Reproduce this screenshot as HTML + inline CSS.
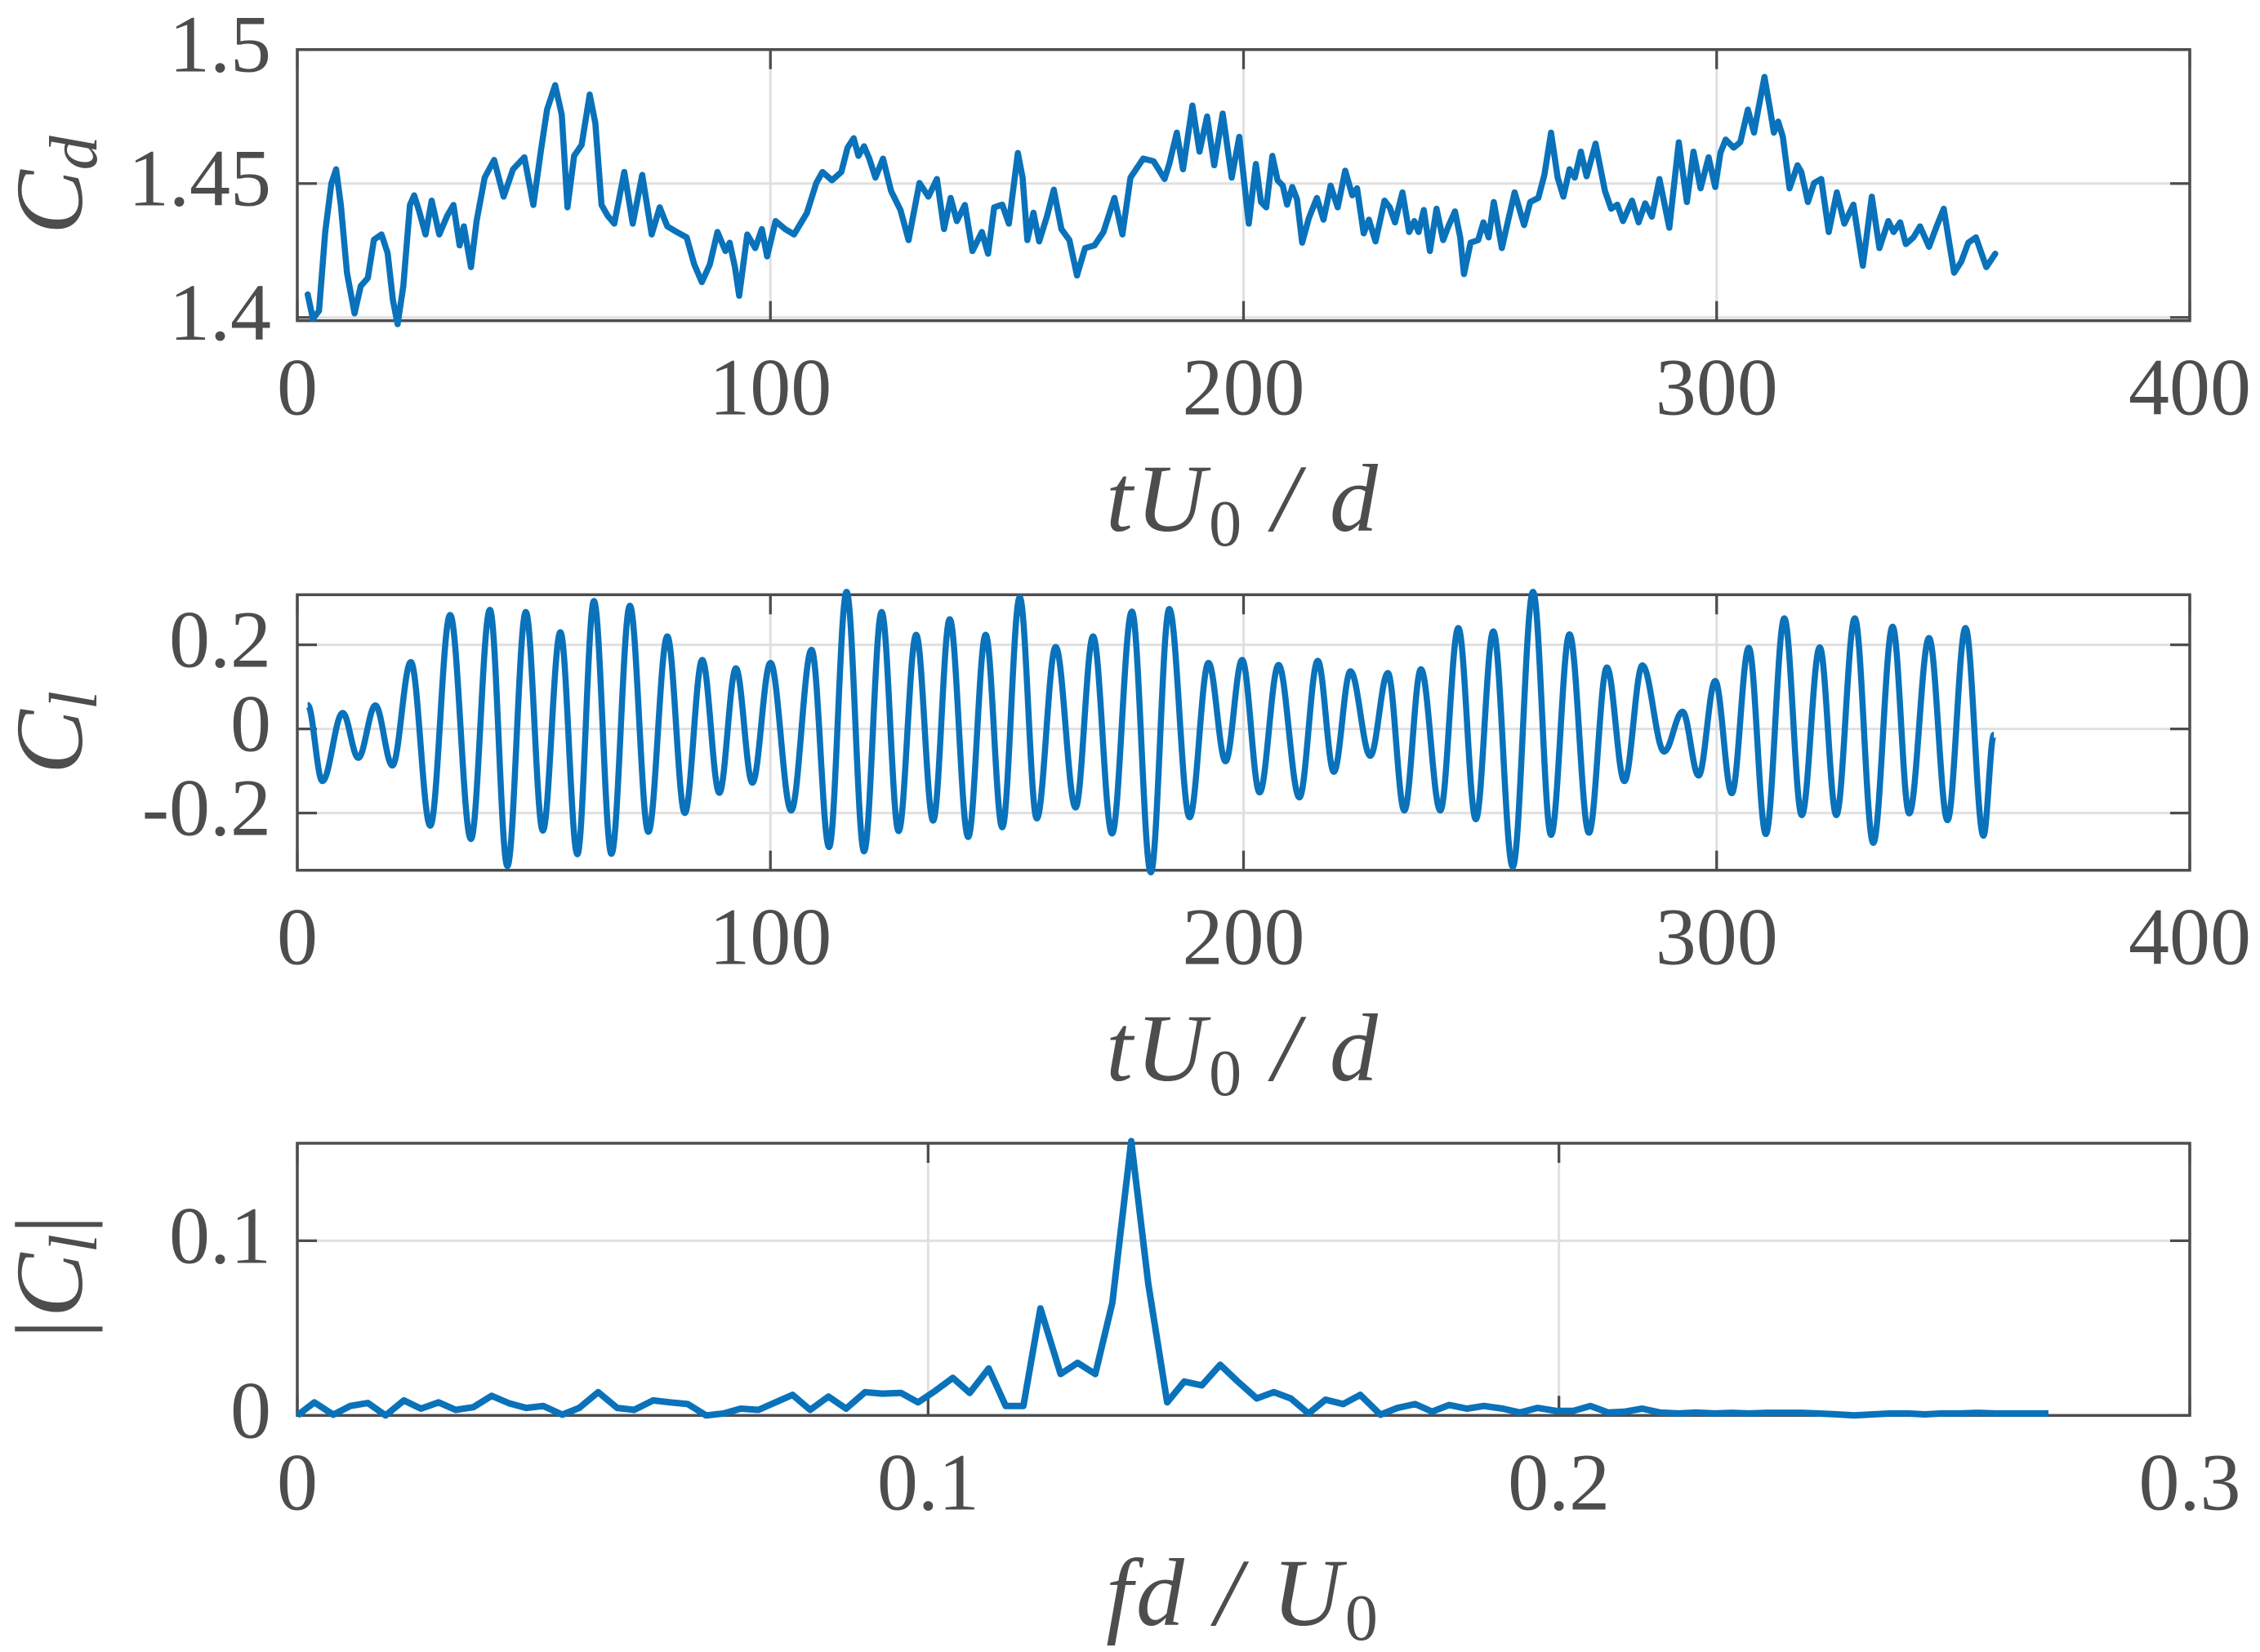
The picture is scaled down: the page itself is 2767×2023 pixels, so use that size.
<!DOCTYPE html>
<html><head><meta charset="utf-8"><title>Cd, Cl and |Cl| spectrum</title>
<style>
html,body{margin:0;padding:0;background:#fff;}
svg{display:block;}
text{font-family:"Liberation Serif",serif;fill:#4d4d4f;}
</style></head>
<body>
<svg id="fig" width="2767" height="2023" viewBox="0 0 2767 2023" xmlns="http://www.w3.org/2000/svg">
<rect width="2767" height="2023" fill="#fff"/>
<g id="layer"></g>
</svg>
<script>
// ---- data: drag coefficient time series ----
const cdT=[2.2,3.3,4.6,5.9,7.2,8.2,9.2,10.5,12.1,13.4,14.9,16.2,17.8,19.1,20.2,21.2,22.4,23.8,24.7,25.7,27.1,28.4,30,31.7,33,34.3,35.2,36.7,37.9,39.6,41.6,43.6,45.6,48,49.9,51.5,52.8,54.5,55.9,57.1,58.5,60.1,61.8,63,64.3,65.6,67,69.1,70.9,72.9,74.9,76.6,78.2,80.2,82.3,83.9,85.5,87.2,88.8,90.5,91.4,92.5,93.4,95.1,96.8,98.2,99.3,101.1,103.1,105,107.7,109.7,111,113,115,116.3,117.6,118.6,119.8,120.9,122.2,123.8,125.5,127.5,129.2,131.5,133.4,135.2,136.7,138.1,139.4,141.1,142.7,144.7,146,147.3,149,150.4,152.3,153.3,154.3,155.6,156.8,158.5,159.9,161.5,163.2,164.8,166.5,168.5,170.4,172.7,174.4,176.1,178.8,181,183.3,184.3,185.9,187.2,189.2,190.7,192.3,193.8,195.6,197.5,199.1,201.1,202.6,203.7,204.8,206.1,207.2,208.3,209.2,210.3,211.3,212.4,213.8,215.5,216.9,218.4,219.9,221.5,223,224,225.4,226.5,227.9,229.8,230.9,232,233.6,235,236.1,237,238.1,239.4,240.8,242.2,243.3,244.7,245.8,246.6,248,249.6,250.7,251.8,252.9,254.6,255.9,257.3,259.3,260.6,262.3,263.6,265,266.4,267.6,268.9,270,271.3,272.5,274.4,276.4,277.7,279,280.2,282.1,283.5,284.9,286.3,287.9,290,292,293.7,295.1,296.6,298.3,299.7,300.8,301.9,303.6,305,306.6,307.9,308.8,310.1,311.3,312.1,313,314,315.4,317.1,317.9,319.3,320.6,322.1,323.7,325.4,327,328.9,330.9,332.8,334.4,336.3,337.4,338.8,340,341.6,343,344.9,346.5,348,350.2,351.7,353.2,354.8,357,358.9];
const cdV=[1.4086,1.3995,1.4025,1.432,1.450,1.4553,1.442,1.4167,1.4015,1.4117,1.4147,1.429,1.431,1.424,1.4066,1.3975,1.4117,1.442,1.4456,1.44,1.431,1.4436,1.431,1.438,1.442,1.4269,1.434,1.4188,1.436,1.4522,1.4588,1.4451,1.4553,1.4598,1.442,1.4624,1.4776,1.4867,1.4756,1.4411,1.4603,1.4644,1.4832,1.4725,1.442,1.438,1.435,1.4543,1.435,1.4532,1.431,1.4411,1.434,1.4319,1.4299,1.4198,1.4132,1.4198,1.4319,1.4248,1.4279,1.4188,1.4081,1.431,1.4259,1.433,1.4228,1.436,1.433,1.431,1.439,1.4502,1.4543,1.4512,1.4543,1.4634,1.4669,1.4603,1.4639,1.4593,1.4522,1.4593,1.4472,1.4401,1.4289,1.4502,1.4451,1.4517,1.433,1.4446,1.436,1.442,1.4248,1.4319,1.4238,1.4411,1.4421,1.435,1.4614,1.4522,1.4289,1.4391,1.4284,1.438,1.4477,1.433,1.4289,1.4157,1.4259,1.4269,1.4319,1.4446,1.431,1.4522,1.4593,1.4583,1.4517,1.4573,1.469,1.4553,1.4791,1.4619,1.475,1.4568,1.4761,1.4522,1.4674,1.435,1.4573,1.4431,1.4411,1.4603,1.4512,1.4492,1.4421,1.4487,1.4441,1.4279,1.437,1.4446,1.4365,1.4492,1.4411,1.4548,1.4456,1.4482,1.4314,1.4365,1.4284,1.4436,1.4411,1.4355,1.4467,1.4319,1.436,1.4319,1.4401,1.4248,1.4406,1.4289,1.434,1.4396,1.4299,1.4162,1.4279,1.4289,1.4355,1.4299,1.4431,1.4259,1.436,1.4467,1.4345,1.4431,1.4446,1.4533,1.469,1.4522,1.4451,1.4553,1.4522,1.4619,1.4527,1.4649,1.4472,1.4406,1.4421,1.436,1.4436,1.4355,1.4426,1.4376,1.4517,1.4335,1.4654,1.4431,1.4619,1.4482,1.4598,1.4487,1.4614,1.4664,1.4634,1.4654,1.4776,1.469,1.4776,1.4898,1.4776,1.469,1.4731,1.4674,1.4482,1.4568,1.4543,1.4431,1.4502,1.4517,1.4319,1.4467,1.435,1.4421,1.4193,1.4451,1.4259,1.436,1.4319,1.4355,1.4274,1.4299,1.434,1.4264,1.434,1.4406,1.4167,1.4208,1.4279,1.4299,1.4188,1.4238];
// ---- data: lift coefficient (extrema of the oscillation) ----
const clT=[2.2,5.3,9.6,12.9,16.5,20.1,24,28.1,32.3,36.7,40.7,44.4,48.3,51.9,55.6,59.2,62.7,66.4,70.3,74.2,78.2,81.9,85.6,89.2,92.7,96.2,100,104.4,108.7,112.4,116.1,119.8,123.5,127.1,130.8,134.4,137.9,141.8,145.5,149,152.7,156.3,160.3,164.5,168.2,172.2,176.4,180.4,184.3,188.6,192.6,196.2,199.7,203.4,207.4,211.8,215.7,219.1,222.6,226.8,230.5,234,237.5,241.6,245.4,249.1,252.8,256.9,261.2,265,268.9,273,276.8,280.5,284.3,288.9,292.8,296.2,299.7,303.2,306.8,310.4,314.3,318,321.8,325.3,329.2,333.1,337.2,340.7,344.9,348.8,352.6,356.4,358.6];
const clV=[0.057,-0.124,0.038,-0.069,0.056,-0.087,0.159,-0.23,0.271,-0.262,0.283,-0.326,0.278,-0.242,0.23,-0.298,0.304,-0.297,0.293,-0.245,0.22,-0.2,0.164,-0.152,0.144,-0.128,0.157,-0.194,0.188,-0.281,0.326,-0.291,0.278,-0.243,0.224,-0.218,0.261,-0.257,0.224,-0.234,0.313,-0.213,0.195,-0.187,0.22,-0.249,0.279,-0.341,0.285,-0.21,0.157,-0.077,0.164,-0.151,0.152,-0.163,0.162,-0.102,0.137,-0.064,0.133,-0.194,0.142,-0.194,0.24,-0.215,0.232,-0.328,0.326,-0.252,0.225,-0.247,0.146,-0.124,0.151,-0.054,0.041,-0.111,0.114,-0.153,0.193,-0.25,0.263,-0.205,0.194,-0.205,0.263,-0.271,0.243,-0.201,0.216,-0.217,0.24,-0.254,-0.014];
// ---- data: |Cl| spectrum ----
const fqF=[0,0.0027,0.0057,0.0084,0.0112,0.014,0.0169,0.0196,0.0224,0.0251,0.0279,0.0308,0.0336,0.0363,0.039,0.042,0.0447,0.0477,0.0507,0.0534,0.0564,0.0591,0.0619,0.0648,0.0676,0.0703,0.0731,0.0758,0.0785,0.0813,0.0842,0.087,0.09,0.0927,0.0957,0.0984,0.1011,0.1039,0.1066,0.1096,0.1123,0.1151,0.1178,0.121,0.1237,0.1265,0.1292,0.1322,0.1349,0.1379,0.1406,0.1434,0.1463,0.1491,0.1521,0.1548,0.1575,0.1603,0.163,0.1658,0.1685,0.1717,0.1744,0.1772,0.1799,0.1826,0.1854,0.1881,0.1911,0.1938,0.1966,0.1995,0.2023,0.205,0.2078,0.2105,0.2132,0.216,0.219,0.2217,0.2247,0.2274,0.2301,0.2329,0.2356,0.2384,0.2411,0.2441,0.2468,0.2498,0.2525,0.2553,0.258,0.2607,0.2635,0.2665,0.2692,0.2719,0.2749,0.2776];
const fqA=[0,0.0075,0.0004,0.0054,0.0071,0,0.0086,0.0039,0.0075,0.0032,0.0047,0.0112,0.0069,0.0043,0.0054,0.0004,0.0043,0.0133,0.0043,0.0032,0.0086,0.0075,0.0065,0,0.0011,0.0039,0.0032,0.0075,0.0118,0.0032,0.0108,0.0039,0.0133,0.0125,0.0129,0.0075,0.014,0.0215,0.0129,0.0269,0.0054,0.0054,0.0613,0.0237,0.0301,0.0237,0.0645,0.157,0.0753,0.0075,0.0194,0.0172,0.029,0.0194,0.0097,0.0133,0.0097,0.0011,0.009,0.0065,0.0118,0.0004,0.0043,0.0065,0.0022,0.006,0.0039,0.0054,0.0039,0.0017,0.0043,0.0026,0.0026,0.0054,0.0017,0.0022,0.0039,0.0017,0.0011,0.0017,0.0011,0.0015,0.0011,0.0015,0.0015,0.0015,0.0011,0.0006,0,0.0006,0.0011,0.0011,0.0006,0.0011,0.0011,0.0015,0.0011,0.0011,0.0011,0.0011];
// ---- tick labels ----
const timeTicks=[0,100,200,300,400];
const cdTicks=[1.4,1.45,1.5];
const cdTickLabels=["1.4","1.45","1.5"];
const clTicks=[-0.2,0,0.2];
const clTickLabels=["-0.2","0","0.2"];
const fqTicks=[0,0.1,0.2,0.3];
const fqTickLabels=["0","0.1","0.2","0.3"];
const ampTicks=[0,0.1];
const ampTickLabels=["0","0.1"];

const NS="http://www.w3.org/2000/svg";
const layer=document.getElementById('layer');
function mk(tag,attrs,parent){const e=document.createElementNS(NS,tag);for(const k in attrs)e.setAttribute(k,attrs[k]);(parent||layer).appendChild(e);return e;}

const L=364,R=2681;
const panels=[
 {name:'cd',top:60.7,bot:392.7,x0:0,x1:400,y0:1.3988,y1:1.5},
 {name:'cl',top:728.3,bot:1065.7,x0:0,x1:400,y0:-0.3361,y1:0.3190},
 {name:'amp',top:1400,bot:1733.3,x0:0,x1:0.3,y0:0,y1:0.1558}
];
function sx(p,v){return L+(v-p.x0)/(p.x1-p.x0)*(R-L);}
function sy(p,v){return p.bot-(v-p.y0)/(p.y1-p.y0)*(p.bot-p.top);}

function drawAxes(p,xt,xl,yt,yl,xTitleParts,yTitleParts,xTitleY){
  const g=mk('g',{});
  
  
  xt.forEach(v=>{const x=sx(p,v);if(x>L+2&&x<R-2){const gl=mk('line',{x1:x,x2:x,y1:p.top,y2:p.bot,stroke:'#e0e0e0','stroke-width':3},g);
    }});
  yt.forEach(v=>{const y=sy(p,v);const gl=mk('line',{x1:L,x2:R,y1:y,y2:y,stroke:'#e0e0e0','stroke-width':3},g);
    });
  xt.forEach(v=>{const x=sx(p,v);
    const t1=mk('line',{x1:x,x2:x,y1:p.bot,y2:p.bot-24,stroke:'#4d4d4f','stroke-width':3.3},g);
    
    const t2=mk('line',{x1:x,x2:x,y1:p.top,y2:p.top+24,stroke:'#4d4d4f','stroke-width':3.3},g);
    });
  yt.forEach(v=>{const y=sy(p,v);
    const t1=mk('line',{x1:L,x2:L+24,y1:y,y2:y,stroke:'#4d4d4f','stroke-width':3.3},g);
    
    const t2=mk('line',{x1:R,x2:R-24,y1:y,y2:y,stroke:'#4d4d4f','stroke-width':3.3},g);
    });
  const b=mk('rect',{x:L,y:p.top,width:R-L,height:p.bot-p.top,fill:'none',stroke:'#4d4d4f','stroke-width':3.5},g);
  
  xt.forEach((v,i)=>{const t=mk('text',{x:sx(p,v),y:p.bot+115,'text-anchor':'middle','font-size':100},g);t.textContent=xl[i];
    });
  yt.forEach((v,i)=>{const t=mk('text',{x:332,y:sy(p,v)+27,'text-anchor':'end','font-size':100},g);t.textContent=yl[i];
    });
  const xtl=mk('text',{x:(L+R)/2,y:xTitleY,'text-anchor':'middle','font-size':118,'letter-spacing':4},g);
  
  xTitleParts.forEach(pt=>{const s=mk('tspan',pt.a,xtl);s.textContent=pt.t;});
  const cy=(p.top+p.bot)/2;
  const ytl=mk('text',{x:0,y:0,'text-anchor':'middle','font-size':118,transform:`translate(100,${cy}) rotate(-90)`},g);
  
  yTitleParts.forEach(pt=>{const s=mk('tspan',pt.a,ytl);s.textContent=pt.t;});
}
const tU=[{t:'tU',a:{'font-style':'italic'}},{t:'0',a:{'font-size':80,dy:18}},{t:' / d',a:{'font-style':'italic',dy:-18}}];
drawAxes(panels[0],timeTicks,timeTicks.map(String),cdTicks,cdTickLabels,tU,
  [{t:'C',a:{'font-style':'italic'}},{t:'d',a:{'font-style':'italic','font-size':84,dy:18}}],650);
drawAxes(panels[1],timeTicks,timeTicks.map(String),clTicks,clTickLabels,tU,
  [{t:'C',a:{'font-style':'italic'}},{t:'l',a:{'font-style':'italic','font-size':84,dy:18}}],1323);
drawAxes(panels[2],fqTicks,fqTickLabels,ampTicks,ampTickLabels,
  [{t:'fd / U',a:{'font-style':'italic'}},{t:'0',a:{'font-size':80,dy:18}}],
  [{t:'|C',a:{'font-style':'italic'}},{t:'l',a:{'font-style':'italic','font-size':84,dy:18}},{t:'|',a:{dy:-18}}],1990);

let d='';
cdT.forEach((t,i)=>{d+=(i?'L':'M')+sx(panels[0],t).toFixed(1)+' '+sy(panels[0],cdV[i]).toFixed(1);});
const cdLine=mk('path',{d:d,fill:'none',stroke:'#0a72ba','stroke-width':7.5,'stroke-linejoin':'round','stroke-linecap':'round'});



let d2='';
clT.forEach((t,i)=>{const x=sx(panels[1],t),y=sy(panels[1],clV[i]);
  if(i===0){d2+='M'+x.toFixed(1)+' '+y.toFixed(1);return;}
  const xp=sx(panels[1],clT[i-1]),yp=sy(panels[1],clV[i-1]);const dx=(x-xp)*0.36;
  d2+=`C${(xp+dx).toFixed(1)} ${yp.toFixed(1)} ${(x-dx).toFixed(1)} ${y.toFixed(1)} ${x.toFixed(1)} ${y.toFixed(1)}`;});
const clLine=mk('path',{d:d2,fill:'none',stroke:'#0a72ba','stroke-width':7.5,'stroke-linejoin':'round'});



let d3='';
fqF.forEach((f,i)=>{d3+=(i?'L':'M')+sx(panels[2],f).toFixed(1)+' '+sy(panels[2],fqA[i]).toFixed(1);});
const spLine=mk('path',{d:d3,fill:'none',stroke:'#0a72ba','stroke-width':8,'stroke-linejoin':'round'});


</script>
</body></html>
